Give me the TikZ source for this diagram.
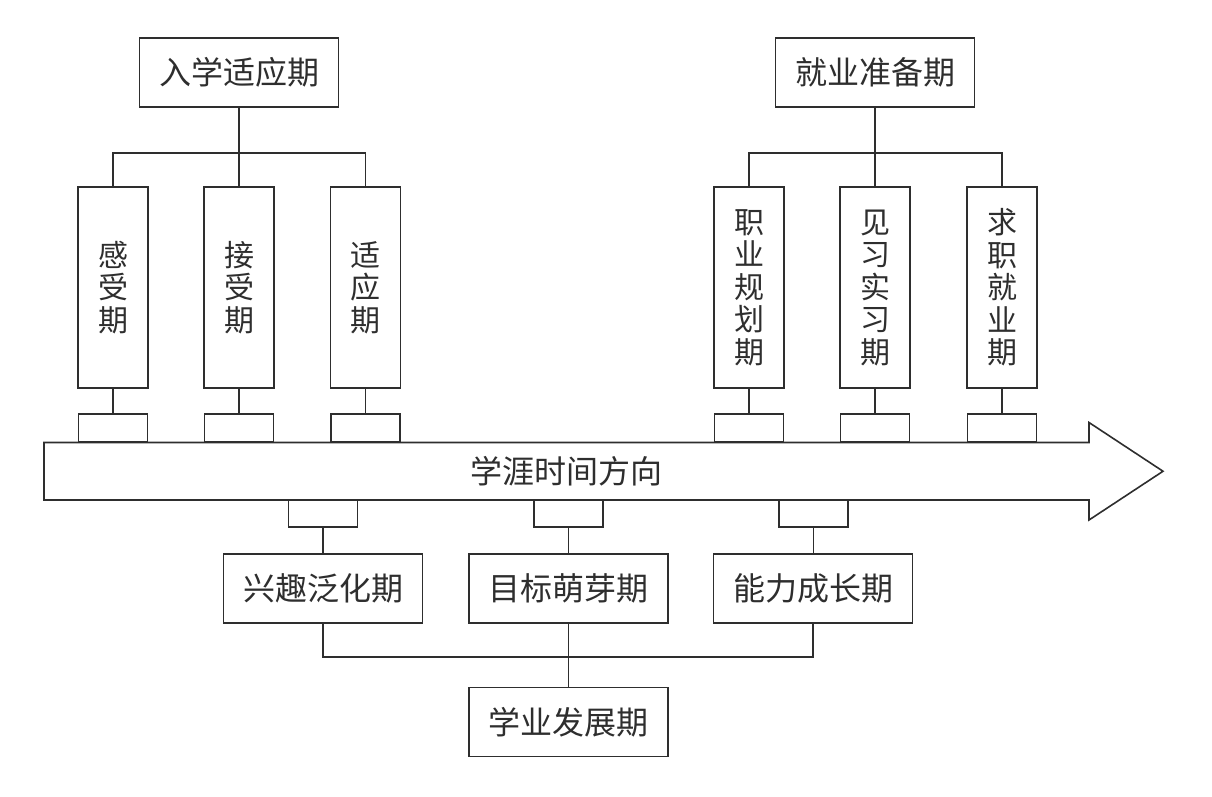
\documentclass[tikz,border=0pt]{standalone}
\usepackage{fontspec}
\newfontfamily\cjk{Noto Sans CJK SC}
\definecolor{ink}{gray}{0.18}
\begin{document}
\begin{tikzpicture}[x=1pt,y=-1pt,
  every node/.style={inner sep=0pt,outer sep=0pt},
  hbox/.style={draw=ink,line width=1.6pt,minimum width=199pt,minimum height=69pt,font=\cjk\fontsize{32}{34}\selectfont,text=ink},
  vbox/.style={draw=ink,line width=1.6pt,minimum width=70pt,minimum height=201pt,font=\cjk\fontsize{30}{32.5}\selectfont,align=center,text=ink},
  tab/.style={draw=ink,line width=1.6pt,minimum width=69pt,minimum height=28pt},
  wire/.style={draw=ink,line width=1.6pt}]
\useasboundingbox (0,0) rectangle (1212,797);
% top boxes
\node[hbox] (t1) at (239,72.5) {入学适应期};
\node[hbox] (t2) at (875,72.5) {就业准备期};
% columns
\node[vbox] (c1) at (113,287.5) {感\\受\\期};
\node[vbox] (c2) at (239,287.5) {接\\受\\期};
\node[vbox] (c3) at (365.5,287.5) {适\\应\\期};
\node[vbox] (c4) at (749,287.5) {职\\业\\规\\划\\期};
\node[vbox] (c5) at (875,287.5) {见\\习\\实\\习\\期};
\node[vbox] (c6) at (1002,287.5) {求\\职\\就\\业\\期};
% upper tabs
\node[tab] (u1) at (113,428) {};
\node[tab] (u2) at (239,428) {};
\node[tab] (u3) at (365.5,428) {};
\node[tab] (u4) at (749,428) {};
\node[tab] (u5) at (875,428) {};
\node[tab] (u6) at (1002,428) {};
% lower tabs
\node[tab,minimum height=27pt] (l1) at (323,513.5) {};
\node[tab,minimum height=27pt] (l2) at (568.5,513.5) {};
\node[tab,minimum height=27pt] (l3) at (813.5,513.5) {};
% arrow
\coordinate (a1) at (44,442.5);
\coordinate (a2) at (1089,442.5);
\coordinate (a3) at (1089,422.5);
\coordinate (a4) at (1163,471.25);
\coordinate (a5) at (1089,520);
\coordinate (a6) at (1089,500);
\coordinate (a7) at (44,500);
\draw[wire,fill=white,line join=miter] (a1) -- (a2) -- (a3) -- (a4) -- (a5) -- (a6) -- (a7) -- cycle;
\node[font=\cjk\fontsize{32}{34}\selectfont,text=ink] (arr) at (566.5,471) {学涯时间方向};
% lower boxes
\node[hbox] (b1) at (323,588.5) {兴趣泛化期};
\node[hbox] (b2) at (568.5,588.5) {目标萌芽期};
\node[hbox] (b3) at (813,588.5) {能力成长期};
\node[hbox] (b0) at (568.5,722) {学业发展期};
% top connectors
\draw[wire] (t1.south) -- (c2.north);
\draw[wire] (c1.north) -- ++(0,-34) -| (c3.north);
\draw[wire] (t2.south) -- (c5.north);
\draw[wire] (c4.north) -- ++(0,-34) -| (c6.north);
% column to tab
\foreach \i in {1,...,6} {\draw[wire] (c\i.south) -- (u\i.north);}
% lower tabs to boxes
\foreach \i in {1,2,3} {\draw[wire] (l\i.south) -- (l\i.south |- b\i.north);}
% bottom bus
\draw[wire] (b1.south) -- ++(0,34) -| (b3.south);
\draw[wire] (b2.south) -- (b0.north);
\end{tikzpicture}
\end{document}
